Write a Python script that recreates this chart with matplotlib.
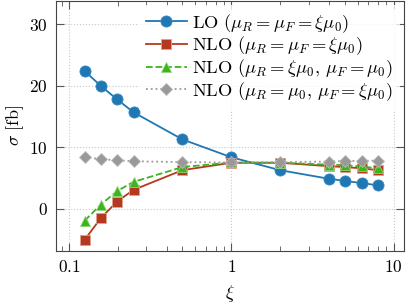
import matplotlib
matplotlib.use("Agg")
import matplotlib.pyplot as plt
import numpy as np

plt.rcParams['mathtext.fontset'] = 'cm'
plt.rcParams['font.family'] = 'serif'
plt.rcParams['font.serif'] = ['DejaVu Serif']

# scale factor xi
xi = [0.125, 0.157, 0.198, 0.25, 0.5, 1, 2, 4, 5.04, 6.35, 8]
lo = [22.4, 20.0, 17.8, 15.7, 11.3, 8.4, 6.3, 4.9, 4.55, 4.2, 3.85]
nlo = [-5.0, -1.5, 1.2, 3.1, 6.3, 7.5, 7.5, 6.95, 6.8, 6.6, 6.3]
nlo_r = [-1.9, 0.7, 2.9, 4.4, 6.8, 7.55, 7.5, 7.2, 7.1, 6.9, 6.6]
nlo_f = [8.4, 8.1, 7.9, 7.75, 7.6, 7.55, 7.6, 7.7, 7.8, 7.8, 7.85]

labels = [r'$\mathrm{LO}\ (\mu_R = \mu_F = \xi\mu_0)$',
          r'$\mathrm{NLO}\ (\mu_R = \mu_F = \xi\mu_0)$',
          r'$\mathrm{NLO}\ (\mu_R = \xi\mu_0,\, \mu_F = \mu_0)$',
          r'$\mathrm{NLO}\ (\mu_R = \mu_0,\, \mu_F = \xi\mu_0)$']

fig = plt.figure(figsize=(4.07, 3.04), dpi=100)
ax = fig.add_axes([0.1376, 0.175, 0.855, 0.822])

ax.plot(xi, lo, '-o', color='#1f77b4', lw=1.3, ms=8, mec='#3a88c0', mew=0.6, label=labels[0], zorder=3)
ax.plot(xi, nlo, '-s', color='#b5391f', lw=1.3, ms=7.2, mec='#e0a090', mew=0.6, label=labels[1], zorder=3)
ax.plot(xi, nlo_r, '--^', color='#3cb41c', lw=1.3, ms=7.5, mec='#8fd57a', mew=0.6, label=labels[2], zorder=3)
ax.plot(xi, nlo_f, ':D', color='#999999', lw=1.3, ms=6, mec='#bbbbbb', mew=0.6, label=labels[3], zorder=3)

ax.set_xscale('log')
ax.set_xlim(0.0832, 11.6)
ax.set_ylim(-6.8, 33.8)
ax.set_xticks([0.1, 1, 10])
ax.set_xticklabels([r'$0.1$', r'$1$', r'$10$'])
ax.set_yticks([0, 10, 20, 30])
ax.set_yticklabels([r'$0$', r'$10$', r'$20$', r'$30$'])
ax.tick_params(which='both', direction='in', top=True, right=True, color='#555555', labelsize=12.5, pad=6)
ax.tick_params(which='major', length=6)
ax.tick_params(which='minor', length=3.5)
ax.grid(True, which='major', ls=':', color='#c8c8c8', lw=0.8)
for s in ax.spines.values():
    s.set_color('#444444')

ax.set_xlabel(r'$\xi$', fontsize=13, labelpad=5)
ax.set_ylabel(r'$\sigma\ [\mathrm{fb}]$', fontsize=13, labelpad=2)

leg = ax.legend(loc='upper right', frameon=True, fontsize=13.3, handlelength=2.2,
                borderaxespad=0.2, labelspacing=0.0, handletextpad=0.3, fancybox=False,
                borderpad=0.4)
leg.get_frame().set_edgecolor('none')

fig.savefig('out.png', dpi=100)
